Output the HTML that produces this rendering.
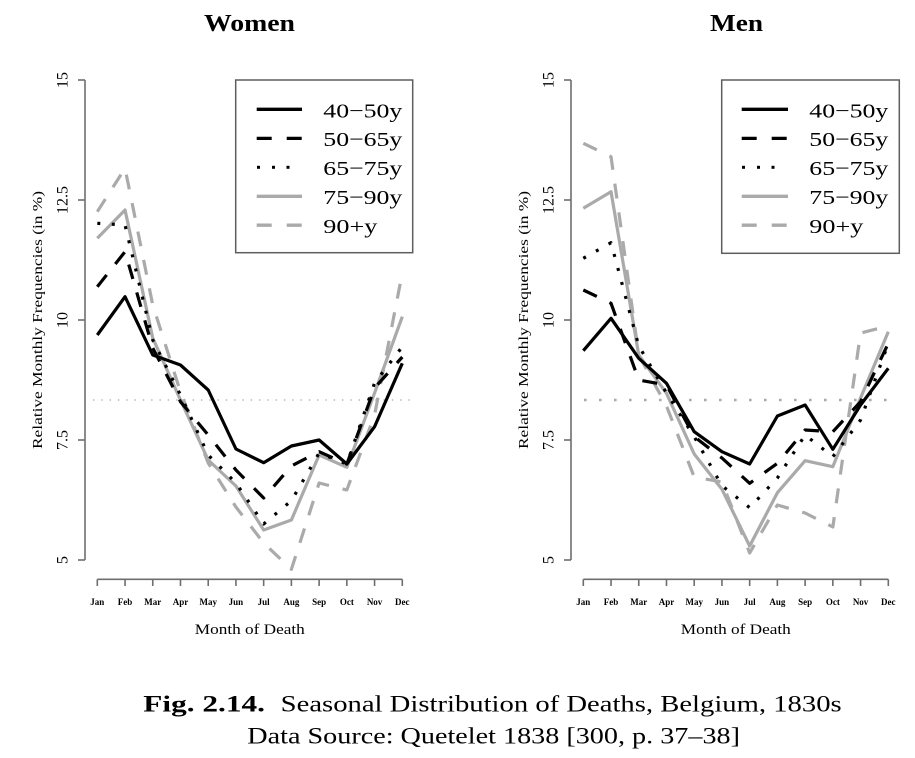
<!DOCTYPE html>
<html>
<head>
<meta charset="utf-8">
<style>
  html, body { margin: 0; padding: 0; background: #ffffff; }
  svg { display: block; }
  text { font-family: "Liberation Serif", "DejaVu Serif", serif; fill: #000; }
</style>
</head>
<body>
<svg width="915" height="758" viewBox="0 0 915 758" xmlns="http://www.w3.org/2000/svg">
  <rect x="0" y="0" width="915" height="758" fill="#ffffff"/>

  <!-- ================= LEFT PANEL: WOMEN ================= -->
  <text x="249.5" y="31" font-size="24" font-weight="bold" text-anchor="middle" textLength="91" lengthAdjust="spacingAndGlyphs">Women</text>

  <!-- y axis -->
  <g stroke="#6e6e6e" stroke-width="1.6" fill="none">
    <line x1="85" y1="80" x2="85" y2="560"/>
    <line x1="78" y1="80" x2="85" y2="80"/>
    <line x1="78" y1="200" x2="85" y2="200"/>
    <line x1="78" y1="320" x2="85" y2="320"/>
    <line x1="78" y1="440" x2="85" y2="440"/>
    <line x1="78" y1="560" x2="85" y2="560"/>
    <!-- x axis -->
    <line x1="97.3" y1="579.3" x2="402.3" y2="579.3"/>
    <line x1="97.3" y1="579.3" x2="97.3" y2="586"/>
    <line x1="125.03" y1="579.3" x2="125.03" y2="586"/>
    <line x1="152.75" y1="579.3" x2="152.75" y2="586"/>
    <line x1="180.48" y1="579.3" x2="180.48" y2="586"/>
    <line x1="208.21" y1="579.3" x2="208.21" y2="586"/>
    <line x1="235.94" y1="579.3" x2="235.94" y2="586"/>
    <line x1="263.66" y1="579.3" x2="263.66" y2="586"/>
    <line x1="291.39" y1="579.3" x2="291.39" y2="586"/>
    <line x1="319.12" y1="579.3" x2="319.12" y2="586"/>
    <line x1="346.84" y1="579.3" x2="346.84" y2="586"/>
    <line x1="374.57" y1="579.3" x2="374.57" y2="586"/>
    <line x1="402.3" y1="579.3" x2="402.3" y2="586"/>
  </g>

  <!-- y tick labels -->
  <g font-size="16" text-anchor="middle">
    <text transform="translate(67.5,80) rotate(-90)">15</text>
    <text transform="translate(67.5,200) rotate(-90)">12.5</text>
    <text transform="translate(67.5,320) rotate(-90)">10</text>
    <text transform="translate(67.5,440) rotate(-90)">7.5</text>
    <text transform="translate(67.5,560) rotate(-90)">5</text>
  </g>
  <text transform="translate(42,320) rotate(-90)" font-size="13.5" text-anchor="middle" textLength="258" lengthAdjust="spacingAndGlyphs">Relative Monthly Frequencies (in %)</text>

  <!-- x tick labels -->
  <g font-size="9" font-weight="bold" text-anchor="middle">
    <text x="97.3" y="605">Jan</text>
    <text x="125.03" y="605">Feb</text>
    <text x="152.75" y="605">Mar</text>
    <text x="180.48" y="605">Apr</text>
    <text x="208.21" y="605">May</text>
    <text x="235.94" y="605">Jun</text>
    <text x="263.66" y="605">Jul</text>
    <text x="291.39" y="605">Aug</text>
    <text x="319.12" y="605">Sep</text>
    <text x="346.84" y="605">Oct</text>
    <text x="374.57" y="605">Nov</text>
    <text x="402.3" y="605">Dec</text>
  </g>
  <text x="249.8" y="634" font-size="15" text-anchor="middle" textLength="110" lengthAdjust="spacingAndGlyphs">Month of Death</text>

  <!-- reference dotted line -->
  <line x1="93" y1="400" x2="412" y2="400" stroke="#b5b5b5" stroke-width="1.4" stroke-dasharray="1.4 6.9"/>

  <!-- series (women) -->
  <g fill="none" stroke-width="3.2" stroke-linejoin="round">
    <polyline stroke="#aaaaaa" stroke-dasharray="15 14"
      points="97.3,211.7 125.03,168.3 152.75,305 180.48,392 208.21,463 235.94,507 263.66,543 291.39,569.3 319.12,483 346.84,490 374.57,415 402.3,273"/>
    <polyline stroke="#aaaaaa"
      points="97.3,238.3 125.03,210 152.75,338 180.48,400 208.21,460 235.94,486 263.66,530 291.39,520 319.12,455 346.84,467.3 374.57,393 402.3,316.7"/>
    <polyline stroke="#000000" stroke-dasharray="3 11.5"
      points="97.3,223.3 125.03,225 152.75,340 180.48,395 208.21,455 235.94,483 263.66,524 291.39,500.7 319.12,453 346.84,464 374.57,383 402.3,346.7"/>
    <polyline stroke="#000000" stroke-dasharray="15 14"
      points="97.3,286.7 125.03,251.7 152.75,348 180.48,401.7 208.21,435 235.94,470 263.66,498 291.39,466 319.12,451.7 346.84,464 374.57,388 402.3,357"/>
    <polyline stroke="#000000"
      points="97.3,335 125.03,296.7 152.75,355 180.48,365 208.21,390 235.94,449 263.66,462.7 291.39,446 319.12,440 346.84,464 374.57,426.7 402.3,363.3"/>
  </g>

  <!-- legend (women) -->
  <rect x="235.7" y="80" width="177" height="172.7" fill="#ffffff" stroke="#5e5e5e" stroke-width="1.5"/>
  <g stroke-width="3.3" fill="none">
    <line x1="256.7" y1="109.3" x2="302" y2="109.3" stroke="#000"/>
    <line x1="256.7" y1="138.4" x2="302" y2="138.4" stroke="#000" stroke-dasharray="15 15"/>
    <line x1="256.7" y1="196.3" x2="302" y2="196.3" stroke="#aaaaaa"/>
    <line x1="256.7" y1="225.2" x2="302" y2="225.2" stroke="#aaaaaa" stroke-dasharray="15 15"/>
  </g>
  <g fill="#000">
    <rect x="257" y="165.8" width="3" height="3"/>
    <rect x="272" y="165.8" width="3" height="3"/>
    <rect x="286.5" y="165.8" width="3" height="3"/>
  </g>
  <g font-size="20.5">
    <text x="323.3" y="117.3" textLength="79" lengthAdjust="spacingAndGlyphs">40−50y</text>
    <text x="323.3" y="146.2" textLength="79" lengthAdjust="spacingAndGlyphs">50−65y</text>
    <text x="323.3" y="175.1" textLength="79" lengthAdjust="spacingAndGlyphs">65−75y</text>
    <text x="323.3" y="204" textLength="79" lengthAdjust="spacingAndGlyphs">75−90y</text>
    <text x="323.3" y="232.9" textLength="54" lengthAdjust="spacingAndGlyphs">90+y</text>
  </g>

  <!-- ================= RIGHT PANEL: MEN ================= -->
  <text x="736.5" y="31" font-size="24" font-weight="bold" text-anchor="middle" textLength="53" lengthAdjust="spacingAndGlyphs">Men</text>

  <g stroke="#6e6e6e" stroke-width="1.6" fill="none">
    <line x1="571" y1="80" x2="571" y2="560"/>
    <line x1="564" y1="80" x2="571" y2="80"/>
    <line x1="564" y1="200" x2="571" y2="200"/>
    <line x1="564" y1="320" x2="571" y2="320"/>
    <line x1="564" y1="440" x2="571" y2="440"/>
    <line x1="564" y1="560" x2="571" y2="560"/>
    <line x1="583.3" y1="579.3" x2="888.3" y2="579.3"/>
    <line x1="583.3" y1="579.3" x2="583.3" y2="586"/>
    <line x1="611.03" y1="579.3" x2="611.03" y2="586"/>
    <line x1="638.75" y1="579.3" x2="638.75" y2="586"/>
    <line x1="666.48" y1="579.3" x2="666.48" y2="586"/>
    <line x1="694.21" y1="579.3" x2="694.21" y2="586"/>
    <line x1="721.94" y1="579.3" x2="721.94" y2="586"/>
    <line x1="749.66" y1="579.3" x2="749.66" y2="586"/>
    <line x1="777.39" y1="579.3" x2="777.39" y2="586"/>
    <line x1="805.12" y1="579.3" x2="805.12" y2="586"/>
    <line x1="832.84" y1="579.3" x2="832.84" y2="586"/>
    <line x1="860.57" y1="579.3" x2="860.57" y2="586"/>
    <line x1="888.3" y1="579.3" x2="888.3" y2="586"/>
  </g>

  <g font-size="16" text-anchor="middle">
    <text transform="translate(553.5,80) rotate(-90)">15</text>
    <text transform="translate(553.5,200) rotate(-90)">12.5</text>
    <text transform="translate(553.5,320) rotate(-90)">10</text>
    <text transform="translate(553.5,440) rotate(-90)">7.5</text>
    <text transform="translate(553.5,560) rotate(-90)">5</text>
  </g>
  <text transform="translate(528,320) rotate(-90)" font-size="13.5" text-anchor="middle" textLength="258" lengthAdjust="spacingAndGlyphs">Relative Monthly Frequencies (in %)</text>

  <g font-size="9" font-weight="bold" text-anchor="middle">
    <text x="583.3" y="605">Jan</text>
    <text x="611.03" y="605">Feb</text>
    <text x="638.75" y="605">Mar</text>
    <text x="666.48" y="605">Apr</text>
    <text x="694.21" y="605">May</text>
    <text x="721.94" y="605">Jun</text>
    <text x="749.66" y="605">Jul</text>
    <text x="777.39" y="605">Aug</text>
    <text x="805.12" y="605">Sep</text>
    <text x="832.84" y="605">Oct</text>
    <text x="860.57" y="605">Nov</text>
    <text x="888.3" y="605">Dec</text>
  </g>
  <text x="735.8" y="634" font-size="15" text-anchor="middle" textLength="110" lengthAdjust="spacingAndGlyphs">Month of Death</text>

  <line x1="584" y1="400" x2="891" y2="400" stroke="#aaaaaa" stroke-width="2.6" stroke-dasharray="2.6 12.4"/>

  <g fill="none" stroke-width="3.2" stroke-linejoin="round">
    <polyline stroke="#aaaaaa" stroke-dasharray="15 14"
      points="583.3,143.3 611.03,156.7 638.75,355 666.48,406 694.21,477 721.94,482 749.66,553 777.39,505 805.12,513 832.84,527 860.57,333 888.3,326"/>
    <polyline stroke="#aaaaaa"
      points="583.3,208.3 611.03,191.7 638.75,355 666.48,393.3 694.21,454 721.94,489.3 749.66,546 777.39,492.7 805.12,460.7 832.84,466.7 860.57,398 888.3,331.7"/>
    <polyline stroke="#000000" stroke-dasharray="3 11.5"
      points="583.3,258.3 611.03,242.7 638.75,346 666.48,393 694.21,436.7 721.94,485.7 749.66,507.7 777.39,478 805.12,435 832.84,456.7 860.57,420 888.3,343.3"/>
    <polyline stroke="#000000" stroke-dasharray="15 14"
      points="583.3,290 611.03,303.3 638.75,380 666.48,385 694.21,436.7 721.94,458 749.66,483.3 777.39,463.3 805.12,430 832.84,431.7 860.57,401.7 888.3,343.3"/>
    <polyline stroke="#000000"
      points="583.3,350.7 611.03,318.3 638.75,358.3 666.48,383.3 694.21,431.7 721.94,451.7 749.66,464 777.39,416 805.12,405 832.84,449.3 860.57,405 888.3,368.3"/>
  </g>

  <!-- legend (men) -->
  <rect x="721.7" y="80" width="177.6" height="173.3" fill="#ffffff" stroke="#5e5e5e" stroke-width="1.5"/>
  <g stroke-width="3.3" fill="none">
    <line x1="741.7" y1="109.3" x2="788" y2="109.3" stroke="#000"/>
    <line x1="741.7" y1="138.4" x2="788" y2="138.4" stroke="#000" stroke-dasharray="15 15"/>
    <line x1="741.7" y1="196.3" x2="788" y2="196.3" stroke="#aaaaaa"/>
    <line x1="741.7" y1="225.2" x2="788" y2="225.2" stroke="#aaaaaa" stroke-dasharray="15 15"/>
  </g>
  <g fill="#000">
    <rect x="742" y="165.8" width="3" height="3"/>
    <rect x="757" y="165.8" width="3" height="3"/>
    <rect x="771.5" y="165.8" width="3" height="3"/>
  </g>
  <g font-size="20.5">
    <text x="809.3" y="117.3" textLength="79" lengthAdjust="spacingAndGlyphs">40−50y</text>
    <text x="809.3" y="146.2" textLength="79" lengthAdjust="spacingAndGlyphs">50−65y</text>
    <text x="809.3" y="175.1" textLength="79" lengthAdjust="spacingAndGlyphs">65−75y</text>
    <text x="809.3" y="204" textLength="79" lengthAdjust="spacingAndGlyphs">75−90y</text>
    <text x="809.3" y="232.9" textLength="54" lengthAdjust="spacingAndGlyphs">90+y</text>
  </g>

  <!-- ================= CAPTION ================= -->
  <text x="143.3" y="711.7" font-size="23" font-weight="bold" textLength="121.7" lengthAdjust="spacingAndGlyphs">Fig. 2.14.</text>
  <text x="280.7" y="711.7" font-size="23" textLength="561" lengthAdjust="spacingAndGlyphs">Seasonal Distribution of Deaths, Belgium, 1830s</text>
  <text x="247.3" y="743.3" font-size="23" textLength="492.7" lengthAdjust="spacingAndGlyphs">Data Source: Quetelet 1838 [300, p. 37–38]</text>
</svg>
</body>
</html>
